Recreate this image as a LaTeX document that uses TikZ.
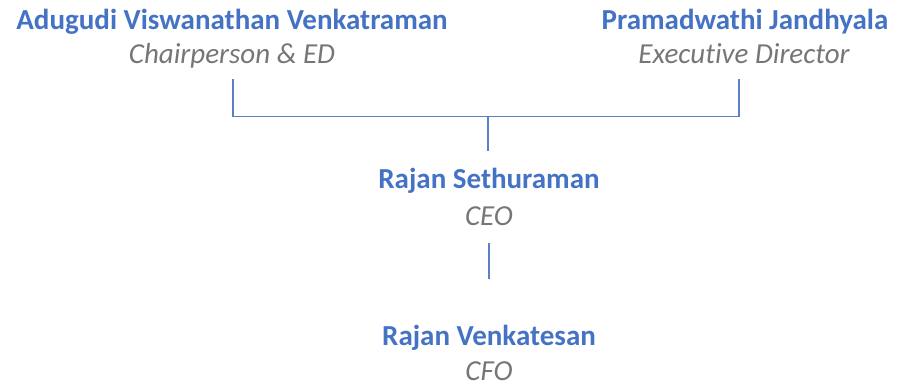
\documentclass[tikz,border=0pt]{standalone}
\usepackage{fontspec}
\setmainfont[Ligatures=NoCommon]{Carlito}
\definecolor{nameblue}{HTML}{4472C4}
\definecolor{titlegray}{HTML}{767676}
\definecolor{linkblue}{HTML}{5B7FC8}
\begin{document}
\begin{tikzpicture}[x=1pt,y=-1pt,
  person/.style={anchor=base,inner sep=0pt,font=\fontsize{29}{32}\selectfont\bfseries,text=nameblue},
  role/.style={anchor=base,inner sep=0pt,font=\fontsize{29}{32}\selectfont\itshape,text=titlegray},
  link/.style={draw=linkblue,line width=1.1pt}]
\useasboundingbox (0,0) rectangle (897,386);
\node[person] (avv) at (232,29) {Adugudi Viswanathan Venkatraman};
\node[role] (avvr) at (232,63) {Chairperson \& ED};
\node[person] (pj) at (745,29) {Pramadwathi Jandhyala};
\node[role] (pjr) at (744,63) {Executive Director};
\node[person] (rs) at (489,188) {Rajan Sethuraman};
\node[role] (rsr) at (489,225) {CEO};
\node[person] (rv) at (489,345) {Rajan Venkatesan};
\node[role] (rvr) at (489,380) {CFO};
\coordinate (avvtop) at (233,79);
\coordinate (pjtop) at (739,79);
\coordinate (join) at (488,116.5);
\coordinate (rsin) at (488,151);
\coordinate (rsout) at (489,243);
\coordinate (rvin) at (489,279);
\draw[link] (avvtop) |- (join) -| (pjtop);
\draw[link] (join) -- (rsin);
\draw[link] (rsout) -- (rvin);
\end{tikzpicture}
\end{document}
